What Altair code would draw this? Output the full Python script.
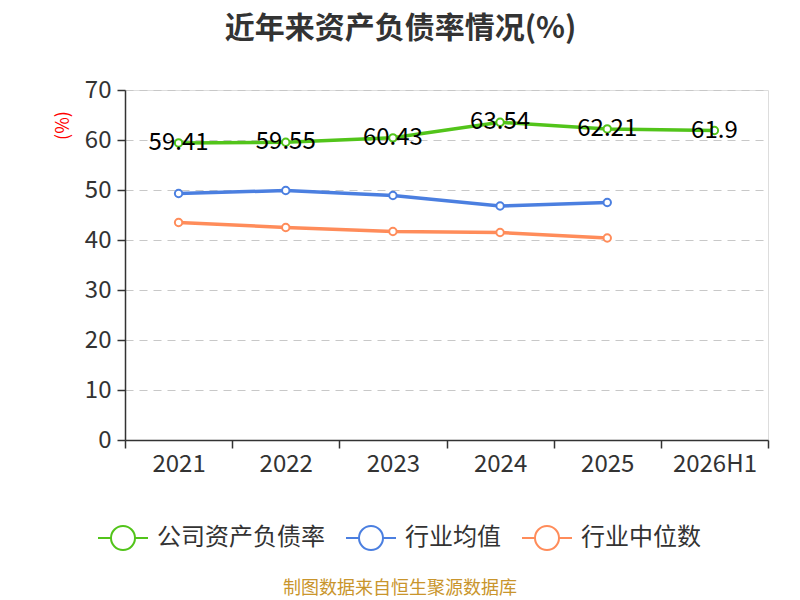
import altair as alt
import pandas as pd

years = ["2021", "2022", "2023", "2024", "2025", "2026H1"]
company = [59.41, 59.55, 60.43, 63.54, 62.21, 61.9]
industry_avg = [49.3, 49.9, 48.9, 46.8, 47.5]
industry_median = [43.5, 42.5, 41.7, 41.5, 40.4]
series_names = ["公司资产负债率", "行业均值", "行业中位数"]
colors = ["#52c41a", "#4b7fe0", "#ff8c5a"]
y_ticks = [0, 10, 20, 30, 40, 50, 60, 70]
source_text = ["制图数据来自恒生聚源数据库"]

rows = []
for name, vals in zip(series_names, [company, industry_avg, industry_median]):
    for yr, v in zip(years, vals):
        rows.append({"year": yr, "value": v, "series": name, "label": str(v)})
df = pd.DataFrame(rows)

FONT = "Noto Sans CJK SC"
W, H = 643, 350

legend_path = ("M-1,0 L-0.48,0 M0.48,0 L1,0 "
               "M0.48,0 A0.48,0.48 0 1,1 -0.48,0 A0.48,0.48 0 1,1 0.48,0 Z")

x_enc = alt.X(
    "year:N", sort=years,
    scale=alt.Scale(type="band", paddingInner=0, paddingOuter=0),
    bandPosition=0.5,
    axis=alt.Axis(
        title=None, labelAngle=0, tickBand="extent", grid=False,
        labelFontSize=24, labelColor="#333", labelPadding=4,
        tickSize=8, tickColor="#333", tickWidth=1.5,
        domainColor="#333", domainWidth=1.5, labelFont=FONT,
    ),
)
y_enc = alt.Y(
    "value:Q",
    scale=alt.Scale(domain=[0, 70], nice=False, zero=True),
    axis=alt.Axis(
        values=y_ticks, title="(%)", titleColor="red", titleFontSize=18,
        titleFontWeight="normal", titleX=-53, titleY=35, titleFont=FONT,
        grid=True, gridDash=[8, 6], gridColor="#c8c8c8", gridWidth=1.2,
        labelFontSize=24, labelColor="#333", labelPadding=6, labelFont=FONT,
        tickSize=8, tickColor="#333", tickWidth=1.5,
        domainColor="#333", domainWidth=1.5,
    ),
)
color_enc = alt.Color(
    "series:N",
    scale=alt.Scale(domain=series_names, range=colors),
    sort=series_names,
    legend=alt.Legend(
        title=None, orient="none", direction="horizontal",
        legendX=-28, legendY=422,
        symbolType=legend_path, symbolSize=2500, symbolStrokeWidth=2,
        symbolFillColor="white",
        labelFontSize=24, labelColor="#333", labelFont=FONT, labelLimit=400,
        labelOffset=8, columnPadding=17,
    ),
)

base = alt.Chart(df)
lines = base.mark_line(strokeWidth=3.5).encode(x=x_enc, y=y_enc, color=color_enc)
points = base.mark_point(filled=False, fill="white", opacity=1, strokeWidth=2, size=55).encode(
    x=x_enc, y=y_enc, color=color_enc
)
labels = base.transform_filter(alt.datum.series == series_names[0]).mark_text(
    fontSize=24, color="#000", align="center", baseline="middle", font=FONT
).encode(x=x_enc, y=y_enc, text="label:N")

src = alt.Chart(pd.DataFrame({"t": source_text})).mark_text(
    fontSize=18, color="#c9952c", align="center", baseline="middle", font=FONT
).encode(x=alt.value(275), y=alt.value(499), text="t:N")

chart = alt.layer(lines, points, labels, src).properties(
    width=W, height=H,
    title=alt.TitleParams(
        "近年来资产负债率情况(%)", fontSize=30, fontWeight="bold", color="#333",
        anchor="middle", frame="group", dx=-46, offset=34, font=FONT,
    ),
    autosize=alt.AutoSizeParams(type="none"),
    padding={"left": 117, "top": 82, "right": 24, "bottom": 170},
).configure_view(stroke=None).configure(font=FONT)

chart.save("out.html", embed_options={"renderer": "svg", "actions": False})
